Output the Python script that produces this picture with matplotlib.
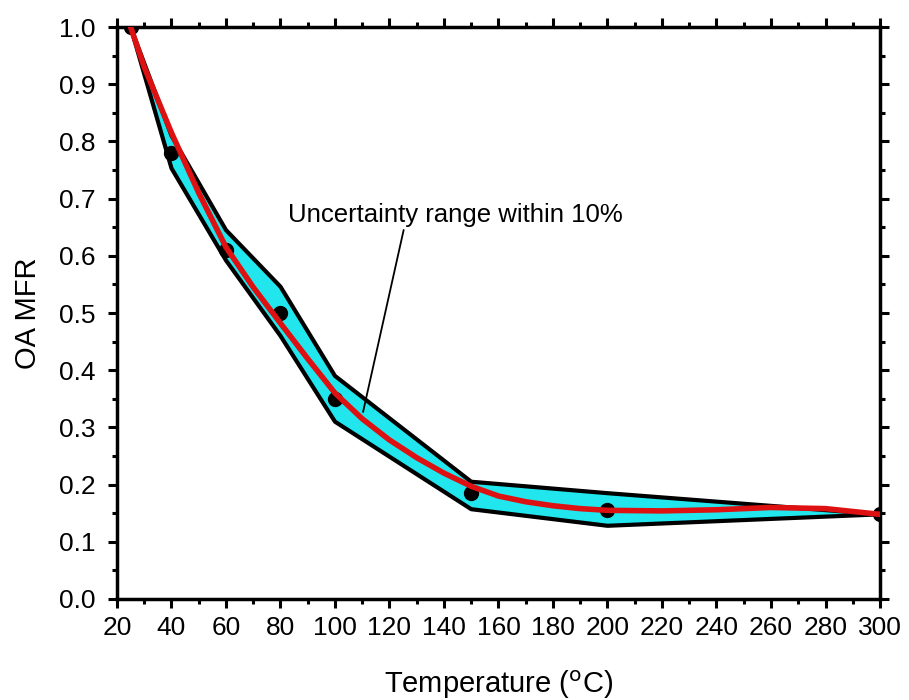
import matplotlib
matplotlib.use("Agg")
import matplotlib.pyplot as plt
from matplotlib.ticker import MultipleLocator, FormatStrFormatter

plt.rcParams['font.family'] = ['Liberation Sans', 'DejaVu Sans']

# Measured OA mass fraction remaining
temp = [25, 40, 60, 80, 100, 150, 200, 300]
mfr = [1.0, 0.78, 0.61, 0.50, 0.35, 0.185, 0.155, 0.148]

# Uncertainty band (upper / lower bounds)
upper = [1.0, 0.81, 0.645, 0.546, 0.39, 0.205, 0.185, 0.148]
lower = [1.0, 0.753, 0.592, 0.46, 0.31, 0.157, 0.128, 0.148]

# Fitted curve
fit_t = [25, 30, 40, 50, 60, 70, 80, 90, 100, 110, 120, 130, 140, 150, 160, 170, 180,
         190, 200, 220, 240, 260, 280, 300]
fit_y = [1.0, 0.93, 0.815, 0.71, 0.615, 0.545, 0.482, 0.42, 0.36, 0.315, 0.278, 0.247,
         0.22, 0.197, 0.18, 0.17, 0.163, 0.158, 0.155, 0.154, 0.156, 0.16, 0.158, 0.148]

fig = plt.figure(figsize=(9.09, 7.0), dpi=100)
ax = fig.add_axes([0.1287, 0.1443, 0.9681 - 0.1287, 0.9614 - 0.1443])

ax.fill_between(temp, lower, upper, facecolor='#22e6ee', edgecolor='none', zorder=2)
ax.plot(temp, upper, color='black', lw=3, zorder=3)
ax.plot(temp, lower, color='black', lw=3, zorder=3)
ax.plot(temp, mfr, 'o', color='black', ms=10, zorder=4)
ax.plot(fit_t, fit_y, color='#dd1111', lw=4, solid_capstyle='round', zorder=5)

ax.annotate('Uncertainty range within 10%', xy=(110.3, 0.327), xytext=(82.8, 0.671),
            fontsize=18.5, va='center', ha='left',
            arrowprops=dict(arrowstyle='-', color='black', lw=1.3,
                            shrinkA=0, shrinkB=0, relpos=(0.347, 0.0)),
            zorder=6)

ax.set_xlim(20, 300)
ax.set_ylim(0, 1.0)
ax.xaxis.set_major_locator(MultipleLocator(20))
ax.xaxis.set_minor_locator(MultipleLocator(10))
ax.yaxis.set_major_locator(MultipleLocator(0.1))
ax.yaxis.set_minor_locator(MultipleLocator(0.05))
ax.yaxis.set_major_formatter(FormatStrFormatter('%.1f'))

for s in ax.spines.values():
    s.set_linewidth(2.5)
ax.tick_params(which='both', direction='out', top=True, right=True, width=2.2,
               labelsize=19, colors='black')
ax.tick_params(which='major', length=6.5)
ax.tick_params(which='minor', length=3.5)
ax.tick_params(axis='y', which='major', pad=9)
ax.tick_params(axis='x', which='major', pad=6)

ax.set_xlabel(r'Temperature ($^{\rm o}$C)', fontsize=21, labelpad=20)
ax.set_ylabel('OA MFR', fontsize=21, labelpad=12)

fig.savefig('out.png', dpi=100)
